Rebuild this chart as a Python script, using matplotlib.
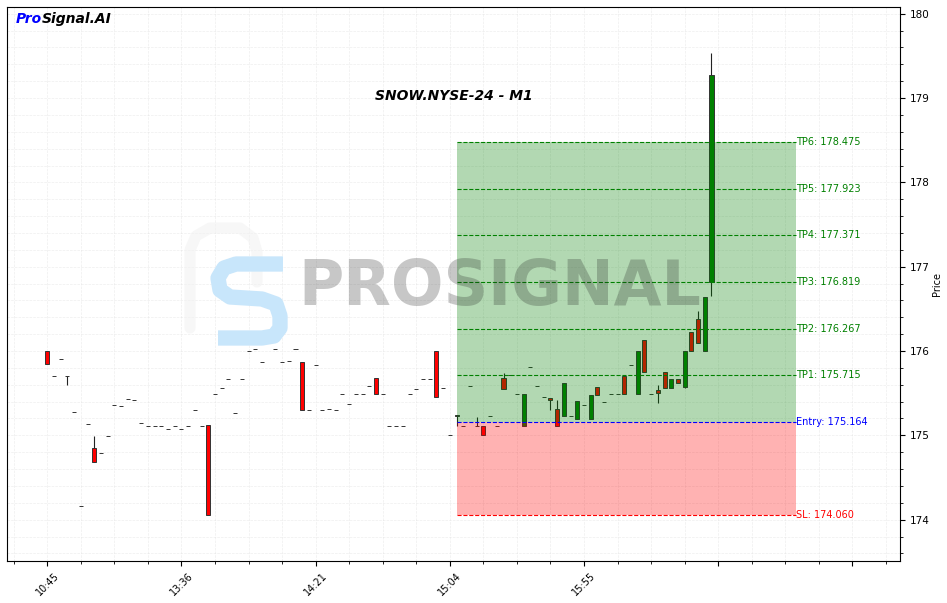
import numpy as np
import matplotlib
matplotlib.use("Agg")
import matplotlib.pyplot as plt
from matplotlib.lines import Line2D
from matplotlib.ticker import FixedLocator, MultipleLocator

# candle data (one per minute bar, index 0..99)
opens = [176.0, 175.70, 175.905, 175.70, 175.277, 174.16, 175.134, 174.85, 174.79, 174.99,
         175.36, 175.35, 175.43, 175.42, 175.147, 175.11, 175.11, 175.11, 175.075, 175.11,
         175.075, 175.11, 175.30, 175.11, 175.118, 175.49, 175.56, 175.67, 175.265, 175.67,
         176.0, 176.024, 175.87, 176.20, 176.024, 175.87, 175.88, 176.024, 175.87, 175.30,
         175.834, 175.30, 175.313, 175.30, 175.49, 175.37, 175.49, 175.49, 175.585, 175.68,
         175.49, 175.11, 175.11, 175.11, 175.49, 175.55, 175.67, 175.67, 176.0, 175.56,
         175.004, 175.23, 175.11, 175.585, 175.11, 175.11, 175.23, 175.11, 175.68, 175.715,
         175.49, 175.11, 175.81, 175.585, 175.455, 175.443, 175.313, 175.23, 175.23, 175.19,
         175.36, 175.19, 175.574, 175.40, 175.49, 175.49, 175.70, 175.834, 175.49, 176.13,
         175.49, 175.54, 175.75, 175.56, 175.67, 175.574, 176.226, 176.38, 176.0, 176.819]
closes = [175.85, 175.70, 175.905, 175.70, 175.277, 174.16, 175.134, 174.684, 174.79, 174.99,
          175.36, 175.35, 175.43, 175.42, 175.147, 175.11, 175.11, 175.11, 175.075, 175.11,
          175.075, 175.11, 175.30, 175.11, 174.056, 175.49, 175.56, 175.67, 175.265, 175.67,
          176.0, 176.024, 175.87, 176.20, 176.024, 175.87, 175.88, 176.024, 175.30, 175.30,
          175.834, 175.30, 175.313, 175.30, 175.49, 175.37, 175.49, 175.49, 175.585, 175.49,
          175.49, 175.11, 175.11, 175.11, 175.49, 175.55, 175.67, 175.67, 175.455, 175.56,
          175.004, 175.24, 175.11, 175.585, 175.11, 175.004, 175.23, 175.11, 175.55, 175.715,
          175.49, 175.49, 175.81, 175.585, 175.455, 175.42, 175.11, 175.62, 175.23, 175.41,
          175.36, 175.48, 175.48, 175.40, 175.49, 175.49, 175.49, 175.834, 176.0, 175.75,
          175.49, 175.50, 175.56, 175.67, 175.62, 176.0, 176.0, 176.095, 176.64, 179.273]
highs = [176.0, 175.70, 175.905, 175.70, 175.277, 174.16, 175.134, 174.988, 174.79, 174.99,
         175.36, 175.35, 175.43, 175.42, 175.147, 175.11, 175.11, 175.11, 175.075, 175.11,
         175.075, 175.11, 175.30, 175.11, 175.118, 175.49, 175.56, 175.67, 175.265, 175.67,
         176.0, 176.024, 175.87, 176.20, 176.024, 175.87, 175.88, 176.024, 175.87, 175.30,
         175.834, 175.30, 175.313, 175.30, 175.49, 175.37, 175.49, 175.49, 175.585, 175.68,
         175.49, 175.11, 175.11, 175.11, 175.49, 175.55, 175.67, 175.67, 176.0, 175.56,
         175.004, 175.24, 175.11, 175.585, 175.22, 175.11, 175.23, 175.11, 175.74, 175.715,
         175.49, 175.49, 175.81, 175.585, 175.455, 175.443, 175.42, 175.62, 175.23, 175.41,
         175.36, 175.48, 175.574, 175.40, 175.49, 175.49, 175.70, 175.834, 176.0, 176.13,
         175.49, 175.60, 175.75, 175.67, 175.67, 176.0, 176.226, 176.475, 176.64, 179.534]
lows = [175.85, 175.70, 175.905, 175.60, 175.277, 174.16, 175.134, 174.684, 174.79, 174.99,
        175.36, 175.35, 175.43, 175.42, 175.147, 175.11, 175.11, 175.11, 175.075, 175.11,
        175.075, 175.11, 175.30, 175.11, 174.056, 175.49, 175.56, 175.67, 175.265, 175.67,
        176.0, 176.024, 175.87, 176.20, 176.024, 175.87, 175.88, 176.024, 175.30, 175.30,
        175.834, 175.30, 175.313, 175.30, 175.49, 175.37, 175.49, 175.49, 175.585, 175.49,
        175.49, 175.11, 175.11, 175.11, 175.49, 175.55, 175.67, 175.67, 175.455, 175.56,
        175.004, 175.11, 175.11, 175.585, 175.11, 175.004, 175.23, 175.11, 175.55, 175.715,
        175.49, 175.11, 175.81, 175.585, 175.455, 175.30, 175.11, 175.23, 175.23, 175.19,
        175.36, 175.19, 175.48, 175.40, 175.49, 175.49, 175.49, 175.834, 175.49, 175.75,
        175.49, 175.38, 175.56, 175.56, 175.62, 175.56, 176.0, 176.095, 176.0, 176.648]

tick_pos = [0, 20, 40, 60, 80, 100, 120]
tick_labels = ['10:45', '13:36', '14:21', '15:04', '15:55', '', '']

# trade levels
level_names = ['TP6', 'TP5', 'TP4', 'TP3', 'TP2', 'TP1']
tp_levels = [178.475, 177.923, 177.371, 176.819, 176.267, 175.715]
entry = 175.164
sl = 174.060
zone_start = 61
zone_end = 111.6

title = 'SNOW.NYSE-24 - M1'

x = np.arange(len(opens))
o = np.array(opens)
c = np.array(closes)
h = np.array(highs)
l = np.array(lows)

fig = plt.figure(figsize=(9.47, 6.03), dpi=100)
ax = fig.add_axes([0.0074, 0.0697, 0.943, 0.9187])

# wicks + bodies
ax.vlines(x, l, h, color='#222222', linewidth=0.8, zorder=2)
colors = ['green' if cc >= oo else 'red' for oo, cc in zip(o, c)]
ax.bar(x, c - o, bottom=o, width=0.6, color=colors, edgecolor='#333333', linewidth=0.7, zorder=2)

# profit / loss zones
ax.fill_between([zone_start, zone_end], entry, tp_levels[0], color='green', alpha=0.3, linewidth=0, zorder=3)
ax.fill_between([zone_start, zone_end], sl, entry, color='red', alpha=0.3, linewidth=0, zorder=3)

for name, lv in zip(level_names, tp_levels):
    ax.hlines(lv, zone_start, zone_end, colors='green', linestyles='--', linewidth=0.8, zorder=4)
    ax.text(zone_end, lv, f'{name}: {lv:.3f}', color='green', fontsize=7, va='center', ha='left', zorder=5)
ax.hlines(entry, zone_start, zone_end, colors='blue', linestyles='--', linewidth=0.8, zorder=4)
ax.text(zone_end, entry, f'Entry: {entry:.3f}', color='blue', fontsize=7, va='center', ha='left', zorder=5)
ax.hlines(sl, zone_start, zone_end, colors='red', linestyles='--', linewidth=0.8, zorder=4)
ax.text(zone_end, sl, f'SL: {sl:.3f}', color='red', fontsize=7, va='center', ha='left', zorder=5)

# axes setup
ax.set_xlim(-6, 127.1)
ax.set_ylim(173.51, 180.08)
ax.xaxis.set_major_locator(FixedLocator(tick_pos))
ax.set_xticklabels(tick_labels, rotation=45, ha='center', fontsize=7)
ax.xaxis.set_minor_locator(MultipleLocator(5))
ax.yaxis.set_major_locator(MultipleLocator(1))
ax.yaxis.set_minor_locator(MultipleLocator(0.2))
ax.yaxis.tick_right()
ax.yaxis.set_label_position('right')
ax.set_ylabel('Price', fontsize=7, labelpad=2)
ax.tick_params(axis='y', labelsize=7.5)
ax.grid(True, which='both', linestyle='--', linewidth=0.5, color='#dddddd', alpha=0.5)
ax.set_axisbelow(True)

ax.text(0.5, 0.84, title, transform=ax.transAxes, ha='center', va='center',
        fontsize=10, fontweight='bold', fontstyle='italic')
pro = ax.text(0.01, 0.978, 'Pro', transform=ax.transAxes, color='blue', fontsize=10,
              fontweight='bold', fontstyle='italic', va='center', ha='left')
ax.annotate('Signal.AI', xy=(1, 0.5), xycoords=pro, color='black', fontsize=10,
            fontweight='bold', fontstyle='italic', va='center', ha='left')

# watermark
fig.text(0.3147, 0.5224, 'PROSIGNAL', fontsize=44.6, fontweight='bold', color='#222222',
         alpha=0.25, va='center', ha='left', zorder=10)

def px(pts):
    xs = [p[0] / 947 for p in pts]
    ys = [1 - p[1] / 603 for p in pts]
    return xs, ys

p_outline = [(190, 328), (190, 250), (196, 236), (210, 228), (240, 228), (253, 238), (257, 252), (257, 282)]
xs, ys = px(p_outline)
fig.add_artist(Line2D(xs, ys, transform=fig.transFigure, color='#f2f2f2', linewidth=8,
                      solid_capstyle='round', alpha=0.6, zorder=9))
s_shape = [(283, 264), (236, 264), (224, 268), (218, 278), (220, 290), (230, 297), (262, 299),
           (276, 304), (280, 316), (280, 328), (274, 336), (262, 338), (218, 338)]
xs, ys = px(s_shape)
fig.add_artist(Line2D(xs, ys, transform=fig.transFigure, color='#c8e6fb', linewidth=11,
                      solid_capstyle='butt', solid_joinstyle='round', zorder=9))

fig.savefig('out.png', dpi=100)
